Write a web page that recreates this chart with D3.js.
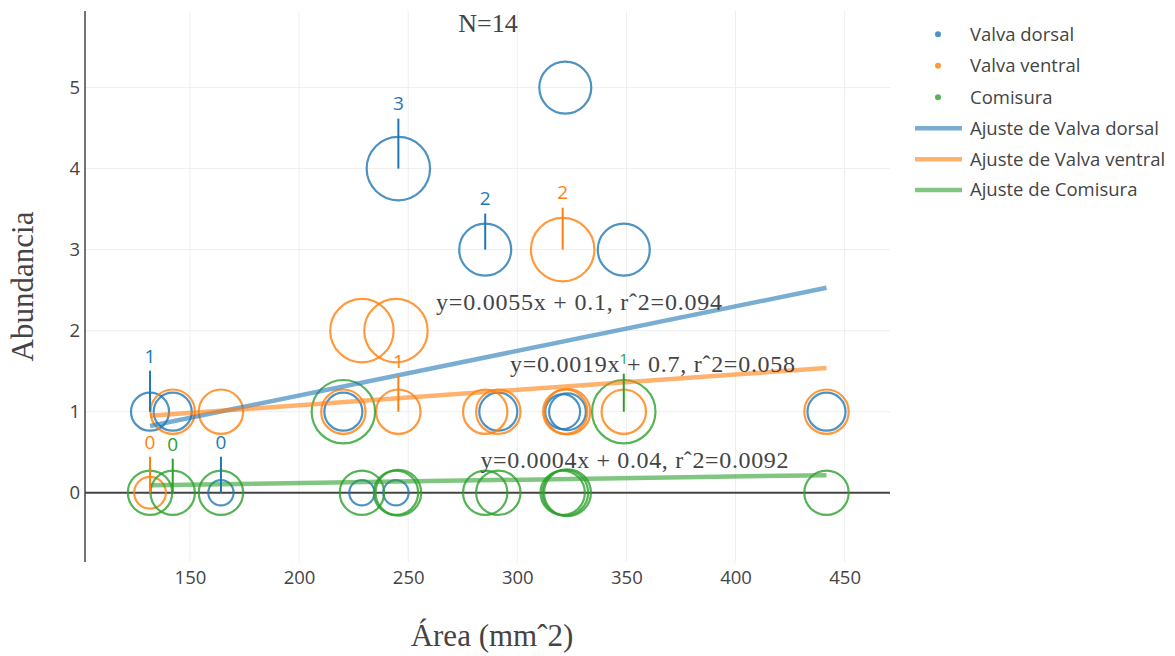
<!DOCTYPE html>
<html>
<head>
<meta charset="utf-8">
<script src="https://cdn.jsdelivr.net/npm/d3@7"></script>
<style>
  body { margin: 0; background: #fff; }
  svg { display: block; }
</style>
</head>
<body>
<div id="chart"></div>
<script>
// data: 14 specimens, area vs abundance
var areas = [131.7, 142.1, 164.2, 220.3, 228.8, 244.4, 245.5, 285.3, 291.3, 320.8, 322.0, 323.0, 348.8, 441.7];
var seriesNames = ["Valva dorsal", "Valva ventral", "Comisura"];
var dorsal  = [1, 1, 0, 1, 0, 0, 4, 3, 1, 1, 5, 1, 3, 1];
var ventral = [0, 1, 1, 1, 2, 2, 1, 1, 1, 3, 1, 1, 1, 1];
var comisura = [0, 0, 0, 1, 0, 0, 0, 0, 0, 0, 0, 0, 1, 0];
// marker size variable
var dorsalSize  = [6, 6, 4, 6, 4, 4, 10, 8.2, 6, 5.5, 8.2, 5.8, 8.2, 6];
var ventralSize = [5, 7, 7, 7, 10, 10, 7, 7, 7, 10, 7, 7.2, 7, 7];
var comisuraSize = [7, 7, 7, 10, 7, 7, 7.2, 7, 7, 7, 7.2, 7.4, 10, 7];
// linear fits
var fitSlope = [0.0055, 0.0019, 0.0004];
var fitIntercept = [0.1, 0.7, 0.04];
var fitR2 = [0.094, 0.058, 0.0092];
var xTicks = [150, 200, 250, 300, 350, 400, 450];
var yTicks = [0, 1, 2, 3, 4, 5];
// value labels: series index, specimen index
var labelSeries = [0, 0, 1, 0, 1, 2, 1, 2, 0];
var labelPoint  = [6, 7, 9, 0, 6, 12, 0, 1, 2];
var labelText   = ["3", "2", "2", "1", "1", "1", "0", "0", "0"];
var labelOffset = [-65, -51, -57, -56, -51, -53, -51, -49, -51];
// equation label anchors (data coords)
var eqX = [328.3, 362.0, 353.7];
var eqY = [2.255, 1.488, 0.301];
var eqWidth = [286, 285, 308];

var colors = ["#1f77b4", "#ff7f0e", "#2ca02c"];
var values = [dorsal, ventral, comisura];
var sizes = [dorsalSize, ventralSize, comisuraSize];

var W = 1175, H = 656;
var plot = {left: 85, top: 11, right: 890, bottom: 562};

var svg = d3.select("#chart").append("svg")
    .attr("width", W).attr("height", H)
    .style("font-family", "'Open Sans', sans-serif");

var x = d3.scaleLinear().domain([101.9, 470.8]).range([plot.left, plot.right]);
var y = d3.scaleLinear().domain([-0.855, 5.945]).range([plot.bottom, plot.top]);
var r = d3.scaleLinear().domain([0, 10]).range([0, 31.7]);

// grid
svg.append("g").selectAll("line").data(xTicks).enter().append("line")
    .attr("x1", function(d) { return x(d); }).attr("x2", function(d) { return x(d); })
    .attr("y1", plot.top).attr("y2", plot.bottom)
    .style("stroke", "#eee").style("stroke-width", 1);
svg.append("g").selectAll("line").data(yTicks.slice(1)).enter().append("line")
    .attr("y1", function(d) { return y(d); }).attr("y2", function(d) { return y(d); })
    .attr("x1", plot.left).attr("x2", plot.right)
    .style("stroke", "#eee").style("stroke-width", 1);

// axes (labels only, plotly style)
var xAxis = svg.append("g")
    .attr("transform", "translate(0," + (plot.bottom + 9) + ")")
    .call(d3.axisBottom(x).tickValues(xTicks).tickSize(0).tickPadding(0).tickFormat(d3.format("d")));
xAxis.select(".domain").remove();
xAxis.selectAll("text").style("font-size", "18.5px").style("fill", "#444")
    .style("font-family", "'Open Sans', sans-serif");

var yAxis = svg.append("g")
    .attr("transform", "translate(" + (plot.left - 5) + ",0)")
    .call(d3.axisLeft(y).tickValues(yTicks).tickSize(0).tickPadding(0).tickFormat(d3.format("d")));
yAxis.select(".domain").remove();
yAxis.selectAll("text").style("font-size", "18.5px").style("fill", "#444")
    .style("font-family", "'Open Sans', sans-serif");

// zero line and y axis line
svg.append("line")
    .attr("x1", plot.left).attr("x2", plot.right)
    .attr("y1", y(0)).attr("y2", y(0))
    .style("stroke", "#444").style("stroke-width", 2);
svg.append("line")
    .attr("x1", plot.left).attr("x2", plot.left)
    .attr("y1", plot.top).attr("y2", plot.bottom)
    .style("stroke", "#444").style("stroke-width", 1.5);

// markers
values.forEach(function(vals, s) {
    svg.append("g").selectAll("circle")
        .data(areas.map(function(a, i) { return {x: a, y: vals[i], s: sizes[s][i]}; }))
        .enter().append("circle")
        .attr("cx", function(d) { return x(d.x); })
        .attr("cy", function(d) { return y(d.y); })
        .attr("r", function(d) { return r(d.s); })
        .style("fill", "none")
        .style("stroke", colors[s])
        .style("stroke-opacity", 0.8)
        .style("stroke-width", 2.2);
});

// fit lines
var xMin = d3.min(areas), xMax = d3.max(areas);
fitSlope.forEach(function(m, s) {
    var b = fitIntercept[s];
    svg.append("line")
        .attr("x1", x(xMin)).attr("y1", y(m * xMin + b))
        .attr("x2", x(xMax)).attr("y2", y(m * xMax + b))
        .style("stroke", colors[s])
        .style("stroke-opacity", 0.6)
        .style("stroke-width", 4.5);
});

// value labels with leader lines
labelText.forEach(function(t, k) {
    var s = labelSeries[k], i = labelPoint[k];
    var px = x(areas[i]), py = y(values[s][i]);
    var off = labelOffset[k];
    svg.append("line")
        .attr("x1", px).attr("x2", px)
        .attr("y1", py + off + 15).attr("y2", py)
        .style("stroke", colors[s]).style("stroke-width", 2);
    svg.append("text")
        .attr("x", px).attr("y", py + off)
        .attr("dy", "0.36em")
        .attr("text-anchor", "middle")
        .style("font-size", s === 2 && t === "1" ? "15px" : "19px")
        .style("fill", colors[s])
        .text(t);
});

// equations
var fmt = d3.format(".2~g");
fitSlope.forEach(function(m, s) {
    svg.append("text")
        .attr("x", x(eqX[s])).attr("y", y(eqY[s]))
        .attr("text-anchor", "middle")
        .attr("textLength", eqWidth[s])
        .attr("lengthAdjust", "spacing")
        .style("font-family", "'Liberation Serif', serif")
        .style("font-size", "24px")
        .style("fill", "#444")
        .text("y=" + fmt(m) + "x + " + fmt(fitIntercept[s]) + ", r\u02C62=" + fmt(fitR2[s]));
});

// title N
svg.append("text")
    .attr("x", 488).attr("y", 31.5)
    .attr("text-anchor", "middle")
    .style("font-family", "'Liberation Serif', serif")
    .style("font-size", "26px")
    .style("fill", "#444")
    .text("N=" + areas.length);

// axis titles
svg.append("text")
    .attr("x", 492).attr("y", 646)
    .attr("text-anchor", "middle")
    .style("font-family", "'Liberation Serif', serif")
    .style("font-size", "31px")
    .style("fill", "#444")
    .text("\u00C1rea (mm\u02C62)");
svg.append("text")
    .attr("transform", "translate(33,286.5) rotate(-90)")
    .attr("text-anchor", "middle")
    .style("font-family", "'Liberation Serif', serif")
    .style("font-size", "31px")
    .style("fill", "#444")
    .text("Abundancia");

// legend
var legendY = [34.3, 65.7, 97.3, 128.3, 159.3, 190];
var legend = svg.append("g");
seriesNames.forEach(function(n, s) {
    legend.append("circle")
        .attr("cx", 938).attr("cy", legendY[s]).attr("r", 3)
        .style("fill", colors[s]).style("fill-opacity", 0.8);
    legend.append("text")
        .attr("x", 970).attr("y", legendY[s]).attr("dy", "0.35em")
        .style("font-size", "18.5px").style("fill", "#444")
        .text(n);
});
seriesNames.forEach(function(n, s) {
    var ly = legendY[s + 3];
    legend.append("line")
        .attr("x1", 915).attr("x2", 962).attr("y1", ly).attr("y2", ly)
        .style("stroke", colors[s]).style("stroke-opacity", 0.6).style("stroke-width", 4.5);
    legend.append("text")
        .attr("x", 970).attr("y", ly).attr("dy", "0.35em")
        .style("font-size", "18.5px").style("fill", "#444")
        .text("Ajuste de " + n);
});
</script>
</body>
</html>
